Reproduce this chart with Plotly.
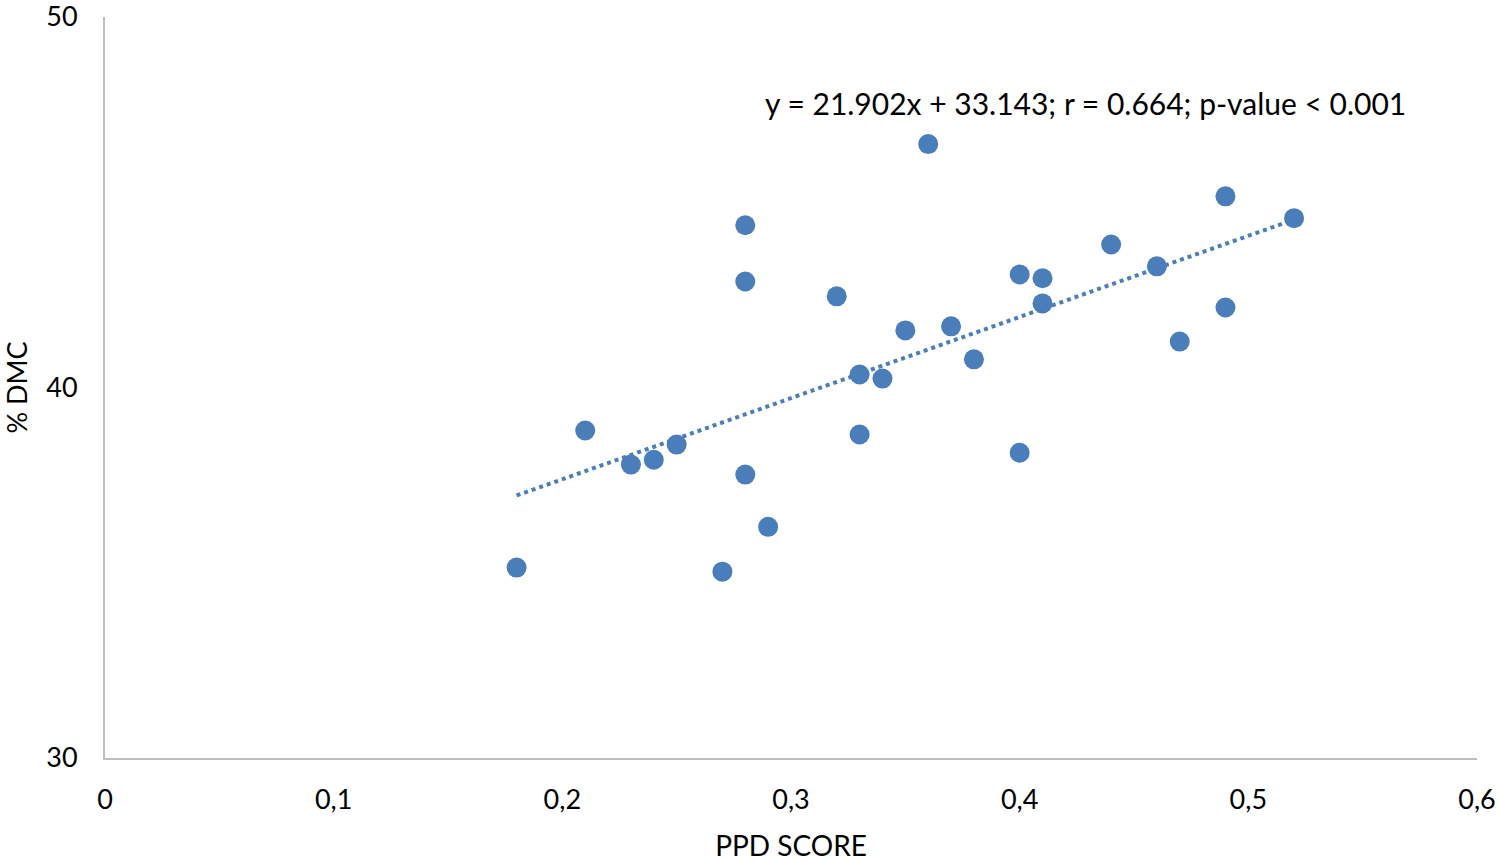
import plotly.graph_objects as go

ppd_score = [0.18, 0.21, 0.23, 0.24, 0.25, 0.27, 0.28, 0.28, 0.28, 0.29,
             0.32, 0.33, 0.33, 0.34, 0.35, 0.36, 0.37, 0.38, 0.40, 0.40,
             0.41, 0.41, 0.44, 0.46, 0.47, 0.49, 0.49, 0.52]
dmc_pct = [35.14, 38.84, 37.92, 38.05, 38.46, 35.03, 44.38, 42.86, 37.65, 36.24,
           42.46, 40.35, 38.73, 40.24, 41.54, 46.57, 41.65, 40.76, 43.05, 38.24,
           42.95, 42.27, 43.86, 43.27, 41.24, 45.16, 42.16, 44.57]

slope = 21.902
intercept = 33.143
trend_x = [min(ppd_score), max(ppd_score)]
trend_y = [slope * v + intercept for v in trend_x]

blue = "#4a7ebb"
font_family = "Lato, 'Open Sans', sans-serif"

fig = go.Figure()
fig.add_trace(go.Scatter(x=trend_x, y=trend_y, mode="lines",
                         line=dict(color=blue, width=4, dash="dot"),
                         showlegend=False, hoverinfo="skip"))
fig.add_trace(go.Scatter(x=ppd_score, y=dmc_pct, mode="markers",
                         marker=dict(color=blue, size=20, line=dict(width=0)),
                         showlegend=False))

fig.add_annotation(x=0.429, y=47.68, xref="x", yref="y",
                   text="y = 21.902x + 33.143; r = 0.664; p-value < 0.001",
                   showarrow=False, xanchor="center", yanchor="middle",
                   font=dict(size=30, color="#000000", family=font_family))

fig.update_layout(
    width=1499, height=862,
    paper_bgcolor="white", plot_bgcolor="white",
    margin=dict(l=105, r=22, t=17, b=104, autoexpand=False),
    separators=",.",
    font=dict(family=font_family, color="#000000", size=27),
    xaxis=dict(range=[0, 0.6], dtick=0.1, tick0=0, showgrid=False, zeroline=False,
               showline=True, linecolor="#bfbfbf", linewidth=2, ticks="",
               ticklabelstandoff=17, ticklabeloverflow="allow", automargin=False,
               title=dict(text="PPD SCORE", font=dict(size=28), standoff=22),
               tickfont=dict(size=27)),
    yaxis=dict(range=[30, 50], dtick=10, tick0=30, showgrid=False, zeroline=False,
               showline=True, linecolor="#bfbfbf", linewidth=2, ticks="",
               ticklabelstandoff=20, ticklabeloverflow="allow", automargin=False,
               title=dict(text="% DMC", font=dict(size=27), standoff=16),
               tickfont=dict(size=27)),
)

fig.write_html("out.html", config={"displayModeBar": False},
               post_script="document.body.style.margin='0';document.body.style.overflow='hidden';")
